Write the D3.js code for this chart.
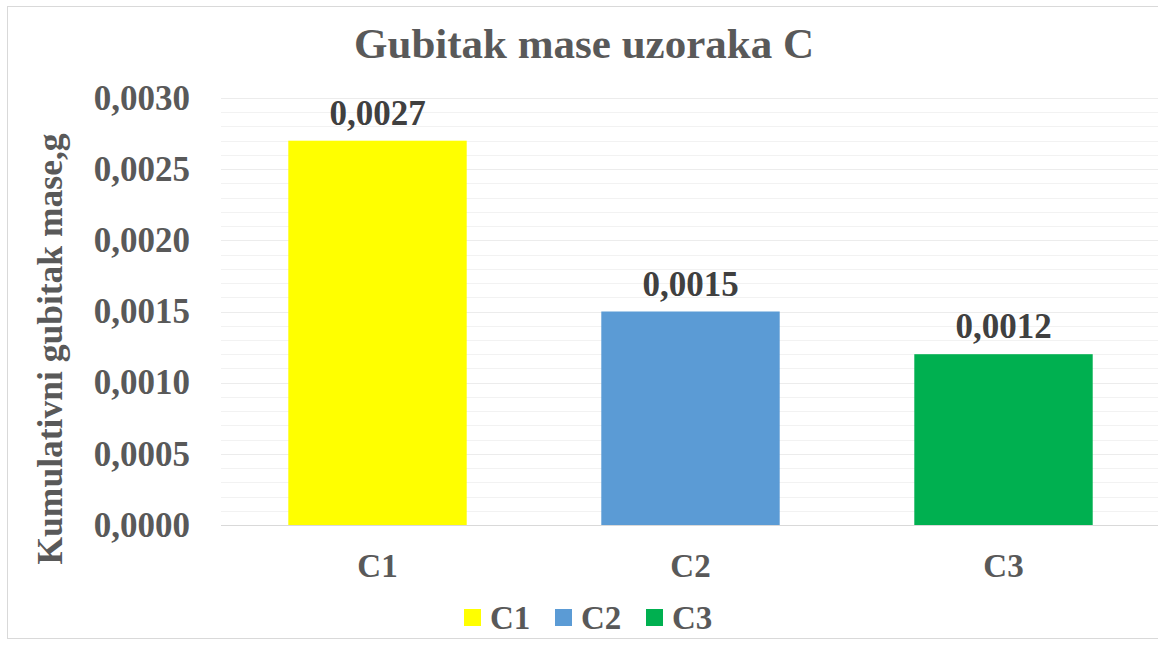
<!DOCTYPE html>
<html>
<head>
<meta charset="utf-8">
<script src="https://cdn.jsdelivr.net/npm/d3@7"></script>
<style>
  html, body { margin: 0; padding: 0; background: #fff; }
  svg { display: block; }
  text { font-family: "Liberation Serif", "Times New Roman", serif; font-weight: bold; }
</style>
</head>
<body>
<svg id="chart" width="1158" height="646"></svg>
<script>
// Cumulative mass loss of samples C
const categories = ["C1", "C2", "C3"];
const values = [0.0027, 0.0015, 0.0012];
const colors = ["#FFFF00", "#5B9BD5", "#00B050"];
const yTicks = [0, 0.0005, 0.0010, 0.0015, 0.0020, 0.0025, 0.0030];
const minorTicks = d3.range(0, 0.00301, 0.0001);

const W = 1158, H = 646;
const margin = { left: 221, right: -2, top: 98, bottom: 121 };
const svg = d3.select("#chart");

// chart frame
svg.append("rect")
  .attr("x", 7.5).attr("y", 6.5)
  .attr("width", W - 4).attr("height", H - 14)
  .attr("fill", "#fff").attr("stroke", "#d9d9d9").attr("stroke-width", 1);

const x = d3.scaleBand()
  .domain(categories)
  .range([margin.left, W - margin.right])
  .paddingInner(0.43).paddingOuter(0.215);

const y = d3.scaleLinear()
  .domain([0, 0.003])
  .range([H - margin.bottom, margin.top]);

const fmt = v => d3.format(".4f")(v).replace(".", ",");

// minor gridlines
svg.append("g").selectAll("line")
  .data(minorTicks)
  .join("line")
  .attr("x1", margin.left).attr("x2", W)
  .attr("y1", d => Math.round(y(d)) + 0.5).attr("y2", d => Math.round(y(d)) + 0.5)
  .attr("stroke", "#f2f2f2").attr("stroke-width", 1);

// major gridlines
svg.append("g").selectAll("line")
  .data(yTicks)
  .join("line")
  .attr("x1", margin.left).attr("x2", W)
  .attr("y1", d => Math.round(y(d)) + 0.5).attr("y2", d => Math.round(y(d)) + 0.5)
  .attr("stroke", "#ececec").attr("stroke-width", 1);

// y axis labels
const yAxis = d3.axisLeft(y).tickValues(yTicks).tickFormat(fmt).tickSize(0).tickPadding(31);
const gy = svg.append("g").attr("transform", `translate(${margin.left},0)`).call(yAxis);
gy.select(".domain").remove();
gy.selectAll("text")
  .attr("fill", "#595959")
  .style("font-size", "35px")
  .style("font-family", "'Liberation Serif', serif")
  .style("font-weight", "bold");

// bars
svg.append("g").selectAll("rect")
  .data(categories)
  .join("rect")
  .attr("x", d => x(d))
  .attr("y", (d, i) => y(values[i]))
  .attr("width", x.bandwidth())
  .attr("height", (d, i) => y(0) - y(values[i]))
  .attr("fill", (d, i) => colors[i]);

// baseline
svg.append("line")
  .attr("x1", margin.left).attr("x2", W)
  .attr("y1", Math.round(y(0)) + 0.5).attr("y2", Math.round(y(0)) + 0.5)
  .attr("stroke", "#d9d9d9").attr("stroke-width", 1.2);

// value labels
svg.append("g").selectAll("text")
  .data(categories)
  .join("text")
  .attr("x", d => x(d) + x.bandwidth() / 2)
  .attr("y", (d, i) => y(values[i]) - 16)
  .attr("text-anchor", "middle")
  .attr("fill", "#404040")
  .style("font-size", "35px")
  .text((d, i) => fmt(values[i]));

// x axis labels
const xAxis = d3.axisBottom(x).tickSize(0).tickPadding(29);
const gx = svg.append("g").attr("transform", `translate(0,${y(0)})`).call(xAxis);
gx.select(".domain").remove();
gx.selectAll("text")
  .attr("fill", "#595959")
  .style("font-size", "33px")
  .style("font-family", "'Liberation Serif', serif")
  .style("font-weight", "bold");

// title
svg.append("text")
  .attr("x", 584).attr("y", 58)
  .attr("text-anchor", "middle")
  .attr("fill", "#595959")
  .style("font-size", "43px")
  .text("Gubitak mase uzoraka C");

// y axis title
svg.append("text")
  .attr("transform", "translate(62,349) rotate(-90)")
  .attr("text-anchor", "middle")
  .attr("fill", "#595959")
  .style("font-size", "35.5px")
  .text("Kumulativni gubitak mase,g");

// legend
const legendX = [464, 555, 646];
const lg = svg.append("g").selectAll("g")
  .data(categories)
  .join("g")
  .attr("transform", (d, i) => `translate(${legendX[i]},609)`);
lg.append("rect")
  .attr("x", 0).attr("y", 0).attr("width", 17).attr("height", 17)
  .attr("fill", (d, i) => colors[i]);
lg.append("text")
  .attr("x", 26).attr("y", 20)
  .attr("fill", "#595959")
  .style("font-size", "33px")
  .text(d => d);
</script>
</body>
</html>
